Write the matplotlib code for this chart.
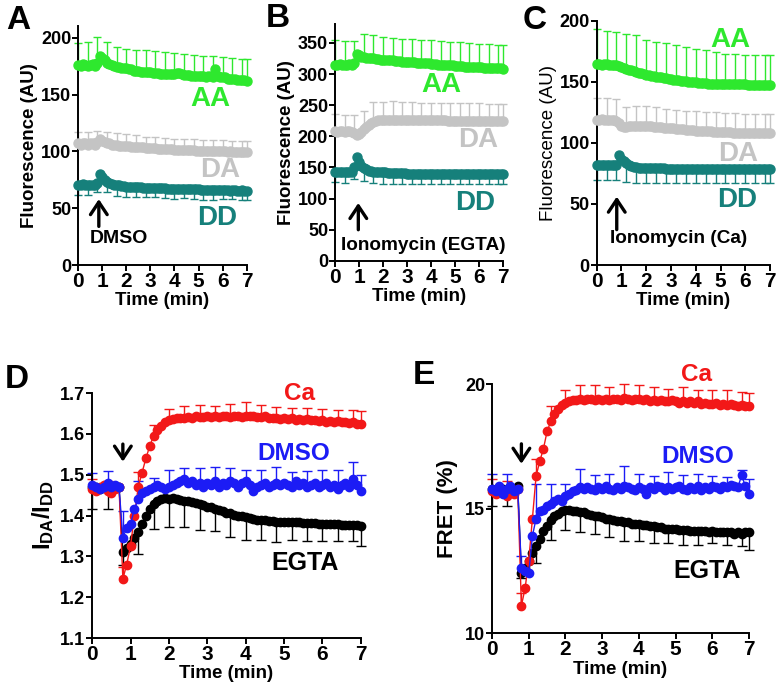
import numpy as np
import matplotlib.pyplot as plt

plt.rcParams['font.family'] = ['Liberation Sans', 'DejaVu Sans']
plt.rcParams['font.weight'] = 'bold'
plt.rcParams['axes.labelweight'] = 'bold'
plt.rcParams['mathtext.fontset'] = 'custom'
plt.rcParams['mathtext.rm'] = 'Liberation Sans:bold'
plt.rcParams['mathtext.bf'] = 'Liberation Sans:bold'

GREEN = '#2ee82e'
GREY = '#c4c4c4'
TEAL = '#16807b'
RED = '#f21818'
BLUE = '#1c1cf5'
BLACK = '#000000'

# sampling every 0.1 min, error bars every 4th sample + last one
time_min = np.linspace(0, 7, 71)
err_idx = list(range(0, 71, 4)) + [70]
time_ticks = [0, 1, 2, 3, 4, 5, 6, 7]

# ---------------- panel A (DMSO)
a_aa = [176, 175, 177, 176, 175, 176, 177, 175, 178, 184,
        182, 180, 178, 177, 176, 175, 174, 174, 173, 173,
        173, 172, 172, 171, 171, 171, 170, 170, 170, 170,
        170, 169, 169, 169, 168, 168, 168, 168, 168, 168,
        168, 169, 169, 168, 167, 167, 167, 166, 166, 166,
        166, 166, 166, 165, 166, 166, 165, 172, 166, 165,
        165, 165, 164, 164, 164, 164, 163, 163, 163, 163, 162]
a_da = [107, 106, 107, 107, 106, 107, 107, 106, 108, 111,
        109, 108, 107, 107, 106, 106, 106, 105, 105, 105,
        105, 105, 104, 104, 104, 104, 104, 104, 103, 103,
        103, 103, 103, 102, 102, 102, 102, 102, 102, 102,
        101, 101, 101, 101, 101, 101, 101, 101, 101, 100,
        100, 100, 100, 100, 100, 100, 100, 100, 100, 100,
        100, 100, 99, 100, 99, 99, 99, 99, 99, 99, 99]
a_dd = [70, 70, 71, 70, 70, 70, 70, 70, 72, 80,
        77, 75, 73, 72, 71, 70.5, 70, 70, 69.5, 69.5,
        69, 69, 69, 69, 68.5, 68.5, 68.5, 68, 68, 68,
        68, 68, 68, 67.5, 67.5, 67.5, 67.5, 67, 67, 67,
        67, 67, 67, 67, 67, 66.5, 66.5, 66.5, 66.5, 66.5,
        66.5, 66, 66, 66, 66, 66, 66, 66, 66, 66,
        66, 66, 66, 65.5, 66, 66, 65.5, 65.5, 66, 65.5, 65.5]
a_aa_err = [19, 21, 23, 18, 18, 17, 18, 19, 19, 19, 18.5, 19, 19, 18, 18.5, 18, 18, 18, 19]
a_da_err = [10, 11, 10, 10, 10, 10, 10, 10, 10, 10, 9.5, 10, 10, 10, 10, 10, 10, 10, 10]
a_dd_err = [8, 8, 8, 9, 9, 9, 9, 8.5, 8.5, 8.5, 8.5, 8, 8.5, 8.5, 8.5, 8, 8, 8.5, 8.5]

# ---------------- panel B (Ionomycin, EGTA)
b_aa = [315, 314, 316, 315, 314, 315, 316, 315, 318, 332,
        330, 328, 327, 326, 326, 325, 325, 324, 324, 323,
        323, 323, 322, 322, 322, 321, 321, 321, 320, 320,
        320, 319, 319, 319, 318, 318, 318, 317, 317, 317,
        316, 316, 316, 315, 315, 315, 315, 314, 314, 314,
        313, 313, 313, 313, 312, 312, 312, 312, 311, 311,
        311, 311, 310, 310, 310, 310, 309, 309, 309, 309, 308]
b_da = [208, 207, 208, 208, 207, 208, 208, 207, 205, 202,
        203, 207, 211, 215, 218, 221, 223, 224.5, 225.5, 226,
        226, 226.5, 227, 227, 227, 227, 227, 227, 226.5, 226.5,
        226.5, 226.5, 226.5, 226, 226, 226, 226, 226, 226, 226,
        226, 225.5, 225.5, 225.5, 225.5, 225.5, 225.5, 225, 225, 225,
        225, 225, 225, 225, 225, 225, 225, 225, 225, 225,
        225, 225, 224.5, 224.5, 224.5, 224.5, 224.5, 224.5, 224.5, 224.5, 224.5]
b_dd = [143, 142, 143, 143, 142, 143, 143, 143, 150, 167,
        158, 153, 149, 147, 145, 144, 143.5, 143, 142.5, 142.5,
        142, 142, 141.5, 141.5, 141, 141, 141, 140.5, 140.5, 140.5,
        140, 140, 140, 140, 140, 140, 140, 140, 140, 140,
        140, 140, 140, 139.5, 140, 140, 139.5, 139.5, 139.5, 139.5,
        139.5, 139.5, 139.5, 139.5, 139.5, 139, 139, 139, 139, 139,
        139, 139, 139, 139, 139, 139, 139, 139, 139, 139, 139]
b_aa_err = [39, 39, 35, 37, 38, 37, 36, 37, 37, 37, 38, 38, 38, 38, 38, 38, 38, 38, 39]
b_da_err = [28, 28, 29, 29, 32, 29, 29, 28, 28, 28, 28, 28, 28, 28, 28, 28, 28, 28, 27.5]
b_dd_err = [17, 17, 18, 20, 19, 18, 17, 17, 16, 16, 16, 16, 16, 16, 16, 16, 16, 16, 16]

# ---------------- panel C (Ionomycin, Ca)
c_aa = [164.5, 164.5, 164, 164.5, 164.5, 164, 164, 164, 164, 163,
        162, 161, 160.5, 160, 159.5, 159, 158, 157.5, 157, 156.5,
        156, 155.5, 155, 154.7, 154.3, 154, 153.6, 153.2, 152.8, 152.4,
        152, 151.7, 151.4, 151.1, 150.8, 150.5, 150.3, 150.1, 149.9, 149.7,
        149.5, 149.3, 149.1, 148.9, 148.7, 148.5, 148.3, 148.2, 148.1, 148,
        148, 148, 148, 148, 148, 148, 148, 148, 148, 148,
        148, 147.8, 147.6, 147.5, 147.4, 147.3, 147.2, 147.1, 147, 147, 147]
c_da = [119, 119, 119.5, 119, 119, 119, 119, 118.5, 118, 116,
        114, 113, 113, 113.5, 114, 114, 114, 114, 114, 114,
        114, 113.8, 113.6, 113.4, 113.2, 113, 112.8, 112.6, 112.4, 112.2,
        112, 111.8, 111.6, 111.4, 111.2, 111, 110.8, 110.6, 110.4, 110.2,
        110, 109.9, 109.8, 109.7, 109.6, 109.5, 109.4, 109.3, 109.2, 109.1,
        109, 108.9, 108.8, 108.7, 108.6, 108.5, 108.4, 108.3, 108.2, 108.1,
        108, 108, 108, 108, 108, 108, 108, 108, 108, 108, 108]
c_dd = [81.5, 81.5, 81.5, 81.5, 81.5, 81.5, 81.5, 81.5, 82, 90,
        87, 85, 83.5, 82.3, 81.3, 80.6, 80, 79.7, 79.5, 79.5,
        79.5, 79.4, 79.3, 79.3, 79.2, 79.2, 79.1, 79.1, 79, 79,
        79, 79, 79, 78.9, 78.9, 78.8, 78.8, 78.8, 78.7, 78.7,
        78.7, 78.7, 78.6, 78.6, 78.6, 78.6, 78.5, 78.5, 78.5, 78.5,
        78.5, 78.5, 78.5, 78.5, 78.5, 78.5, 78.5, 78.5, 78.5, 78.5,
        78.5, 78.5, 78.5, 78.5, 78.5, 78.5, 78.5, 78.5, 78.5, 78.5, 78.5]
c_aa_err = [28.5, 27.5, 27, 29, 30, 28, 28.5, 28.6, 28.6, 28.4, 27, 27.5, 26.4, 25, 24.5, 24, 24.4, 25, 25]
c_da_err = [18, 17.5, 18, 16, 16, 16, 16.5, 15.6, 15.4, 15.3, 16, 16, 15.8, 15.7, 16.1, 16, 16, 16, 16]
c_dd_err = [12, 12, 12.4, 15.6, 12.6, 12, 12, 11.8, 11.6, 11.5, 11.3, 11.2, 11.1, 11.1, 11.1, 11.1, 11.1, 11.1, 11.1]

# ---------------- panel D (I_DA / I_DD)
d_ca = [1.465, 1.46, 1.47, 1.475, 1.46, 1.455, 1.465, 1.47, 1.245, 1.28,
        1.325, 1.40, 1.47, 1.505, 1.54, 1.57, 1.595, 1.61, 1.62, 1.628,
        1.634, 1.636, 1.638, 1.64, 1.639, 1.641, 1.64, 1.643, 1.642, 1.641,
        1.643, 1.642, 1.644, 1.641, 1.643, 1.644, 1.642, 1.645, 1.643, 1.641,
        1.644, 1.645, 1.643, 1.642, 1.641, 1.643, 1.64, 1.638, 1.64, 1.637,
        1.639, 1.636, 1.638, 1.635, 1.637, 1.634, 1.636, 1.633, 1.635, 1.632,
        1.634, 1.63, 1.632, 1.629, 1.631, 1.628, 1.63, 1.626, 1.628, 1.625, 1.624]
d_dmso = [1.475, 1.47, 1.465, 1.47, 1.48, 1.47, 1.475, 1.47, 1.345, 1.37,
          1.38, 1.415, 1.44, 1.455, 1.46, 1.465, 1.47, 1.475, 1.47, 1.465,
          1.47, 1.475, 1.48, 1.485, 1.49, 1.48, 1.485, 1.475, 1.48, 1.47,
          1.48, 1.475, 1.485, 1.47, 1.48, 1.475, 1.485, 1.48, 1.47, 1.48,
          1.485, 1.475, 1.46, 1.47, 1.475, 1.48, 1.47, 1.475, 1.48, 1.475,
          1.48, 1.475, 1.47, 1.485, 1.475, 1.48, 1.47, 1.475, 1.48, 1.47,
          1.475, 1.48, 1.47, 1.475, 1.465, 1.475, 1.48, 1.47, 1.49, 1.475, 1.46]
d_egta = [1.47, 1.47, 1.465, 1.47, 1.47, 1.465, 1.47, 1.47, 1.31, 1.32,
          1.33, 1.345, 1.36, 1.38, 1.40, 1.415, 1.428, 1.436, 1.44, 1.442,
          1.44, 1.442, 1.44, 1.438, 1.436, 1.435, 1.432, 1.43, 1.428, 1.425,
          1.422, 1.42, 1.417, 1.414, 1.41, 1.407, 1.405, 1.402, 1.40, 1.398,
          1.396, 1.394, 1.392, 1.39, 1.389, 1.388, 1.387, 1.386, 1.385, 1.385,
          1.385, 1.384, 1.384, 1.383, 1.383, 1.382, 1.382, 1.381, 1.381, 1.38,
          1.38, 1.38, 1.379, 1.379, 1.379, 1.378, 1.378, 1.377, 1.377, 1.376, 1.375]
d_ca_err = [0.025, 0.025, 0.03, 0.036, 0.027, 0.028, 0.03, 0.029, 0.025, 0.032,
            0.033, 0.03, 0.027, 0.025, 0.027, 0.026, 0.028, 0.03, 0.031]
d_dmso_err = [0.03, 0.03, 0.065, 0.044, 0.022, 0.042, 0.026, 0.036, 0.035, 0.031,
              0.027, 0.037, 0.039, 0.037, 0.038, 0.037, 0.047, 0.04, 0.04]
d_egta_err = [0.055, 0.055, 0.03, 0.055, 0.06, 0.067, 0.063, 0.063, 0.056, 0.057,
              0.055, 0.049, 0.049, 0.043, 0.045, 0.043, 0.042, 0.04, 0.05]

# ---------------- panel E (FRET %)
e_ca = [15.7, 15.6, 15.8, 15.7, 15.5, 15.7, 15.6, 15.8, 11.1, 11.8,
        12.9, 14.6, 16.3, 16.9, 17.4, 18.1, 18.5, 18.8, 19.0, 19.15,
        19.25, 19.3, 19.35, 19.35, 19.4, 19.35, 19.4, 19.4, 19.35, 19.4,
        19.35, 19.4, 19.35, 19.4, 19.4, 19.35, 19.45, 19.4, 19.35, 19.4,
        19.4, 19.35, 19.4, 19.3, 19.35, 19.3, 19.35, 19.3, 19.3, 19.35,
        19.3, 19.25, 19.3, 19.25, 19.3, 19.25, 19.3, 19.2, 19.25, 19.2,
        19.2, 19.25, 19.15, 19.2, 19.15, 19.2, 19.15, 19.1, 19.15, 19.1, 19.1]
e_dmso = [15.8, 15.7, 15.9, 15.6, 15.8, 15.9, 15.7, 15.8, 12.6, 12.5,
          12.4, 13.9, 14.6, 14.9, 14.95, 15.1, 15.2, 15.3, 15.4, 15.3,
          15.5, 15.6, 15.7, 15.75, 15.85, 15.8, 15.85, 15.8, 15.75, 15.85,
          15.8, 15.9, 15.8, 15.75, 15.85, 15.8, 15.9, 15.85, 15.8, 15.75,
          15.85, 15.8, 15.6, 15.85, 15.8, 15.9, 15.85, 15.75, 15.85, 15.8,
          15.85, 15.9, 15.8, 15.75, 15.85, 15.8, 15.9, 15.75, 15.85, 15.8,
          15.9, 15.85, 15.8, 15.9, 15.85, 15.95, 15.9, 15.85, 16.35, 15.9, 15.6]
e_egta = [15.8, 15.8, 15.7, 15.8, 15.8, 15.7, 15.8, 15.9, 12.4, 12.6,
          12.9, 13.2, 13.5, 13.8, 14.1, 14.3, 14.55, 14.7, 14.8, 14.9,
          14.95, 14.95, 14.9, 14.9, 14.85, 14.85, 14.8, 14.75, 14.7, 14.7,
          14.65, 14.6, 14.6, 14.55, 14.5, 14.5, 14.45, 14.45, 14.4, 14.4,
          14.4, 14.35, 14.35, 14.3, 14.3, 14.25, 14.25, 14.2, 14.2, 14.2,
          14.2, 14.15, 14.15, 14.15, 14.1, 14.1, 14.1, 14.1, 14.1, 14.05,
          14.1, 14.05, 14.05, 14.05, 14.05, 14.05, 14.0, 14.05, 14.0, 14.05, 14.05]
e_ca_err = [0.5, 0.6, 0.5, 0.7, 0.6, 0.52, 0.55, 0.6, 0.55, 0.55,
            0.57, 0.55, 0.5, 0.57, 0.47, 0.55, 0.6, 0.55, 0.56]
e_dmso_err = [0.6, 0.6, 0.5, 1.4, 0.8, 0.5, 0.75, 0.6, 0.6, 0.8,
              0.55, 0.5, 0.6, 0.55, 0.5, 0.4, 0.4, 0.2, 0.6]
e_egta_err = [0.7, 0.7, 0.2, 0.7, 0.8, 0.8, 0.8, 0.7, 0.75, 0.75,
              0.7, 0.7, 0.6, 0.6, 0.55, 0.5, 0.5, 0.5, 0.7]


def trace(ax, y, err, color, up=True, ms=6.5, cap=6):
    y = np.asarray(y, dtype=float)
    xe = time_min[err_idx]
    ye = y[err_idx]
    end = ye + np.asarray(err) if up else ye - np.asarray(err)
    ax.vlines(xe, ye, end, color=color, lw=1, zorder=2, clip_on=False)
    ax.plot(xe, end, ls='none', marker='_', ms=cap, mew=1, color=color,
            zorder=2, clip_on=False)
    ax.plot(time_min, y, '-o', color=color, ms=ms, lw=1, zorder=3, clip_on=False)


def style(ax, ylim, yticks, ytick_labels, ylabel, yfs=13.5, ybold=True, labelpad=2):
    for s in ['top', 'right']:
        ax.spines[s].set_visible(False)
    for s in ['left', 'bottom']:
        ax.spines[s].set_linewidth(1.4)
    ax.set_xlim(0, 7)
    ax.set_ylim(*ylim)
    ax.tick_params(axis='both', width=1.4, length=4, pad=1)
    ax.set_xticks(time_ticks, labels=[str(t) for t in time_ticks],
                  fontsize=15, fontweight='bold')
    ax.set_yticks(yticks, labels=ytick_labels, fontsize=13, fontweight='bold')
    ax.set_xlabel('Time (min)', fontsize=13.5, labelpad=1, fontweight='bold')
    ax.set_ylabel(ylabel, fontsize=yfs, labelpad=labelpad,
                  fontweight='bold' if ybold else 'normal')


def label(ax, x, y, s, color, fs=20):
    ax.text(x, y, s, color=color, fontsize=fs, ha='center', va='center',
            fontweight='bold')


def arrow(ax, x, y0, y1):
    ax.annotate('', xy=(x, y1), xytext=(x, y0),
                arrowprops=dict(arrowstyle='->,head_width=0.3,head_length=0.45',
                                mutation_scale=20, shrinkA=0, shrinkB=0,
                                lw=2.4, color='black'))


fig = plt.figure(figsize=(7.81, 6.92), dpi=100)

# A
ax = fig.add_axes([0.100, 0.617, 0.216, 0.345])
trace(ax, a_dd, a_dd_err, TEAL, up=False)
trace(ax, a_da, a_da_err, GREY)
trace(ax, a_aa, a_aa_err, GREEN)
a_ticks = [0, 50, 100, 150, 200]
style(ax, (0, 210), a_ticks, [str(v) for v in a_ticks], 'Fluorescence (AU)')
label(ax, 5.48, 146, 'AA', GREEN)
label(ax, 5.9, 84, 'DA', GREY)
label(ax, 5.76, 41, 'DD', TEAL)
arrow(ax, 0.86, 34, 58)
label(ax, 1.68, 23, 'DMSO', BLACK, fs=14)

# B
ax = fig.add_axes([0.429, 0.623, 0.215, 0.342])
trace(ax, b_dd, b_dd_err, TEAL, up=False)
trace(ax, b_da, b_da_err, GREY)
trace(ax, b_aa, b_aa_err, GREEN)
b_ticks = [0, 50, 100, 150, 200, 250, 300, 350]
style(ax, (0, 380), b_ticks, [str(v) for v in b_ticks], 'Fluorescence (AU)')
label(ax, 4.44, 282, 'AA', GREEN)
label(ax, 5.96, 194, 'DA', GREY)
label(ax, 5.83, 93, 'DD', TEAL)
arrow(ax, 0.97, 50, 93)
label(ax, 3.68, 25, 'Ionomycin (EGTA)', BLACK, fs=13.7)

# C
ax = fig.add_axes([0.764, 0.617, 0.222, 0.353])
trace(ax, c_dd, c_dd_err, TEAL, up=False)
trace(ax, c_da, c_da_err, GREY)
trace(ax, c_aa, c_aa_err, GREEN)
c_ticks = [0, 50, 100, 150, 200]
style(ax, (0, 200), c_ticks, [str(v) for v in c_ticks], 'Fluorescence (AU)',
      ybold=False)
label(ax, 5.38, 184, 'AA', GREEN)
label(ax, 5.72, 91, 'DA', GREY)
label(ax, 5.65, 53, 'DD', TEAL)
arrow(ax, 0.81, 29, 56)
label(ax, 3.3, 22, 'Ionomycin (Ca)', BLACK, fs=13.7)

# D
ax = fig.add_axes([0.118, 0.078, 0.344, 0.354])
trace(ax, d_egta, d_egta_err, BLACK, up=False, ms=6, cap=7)
trace(ax, d_ca, d_ca_err, RED, ms=6, cap=7)
trace(ax, d_dmso, d_dmso_err, BLUE, ms=6, cap=7)
d_ticks = [1.1, 1.2, 1.3, 1.4, 1.5, 1.6, 1.7]
style(ax, (1.1, 1.7), d_ticks, ['%.1f' % v for v in d_ticks],
      r'$\mathregular{I_{DA}/I_{DD}}$', yfs=17, labelpad=3)
label(ax, 5.4, 1.70, 'Ca', RED, fs=17.5)
label(ax, 5.24, 1.553, 'DMSO', BLUE, fs=17.5)
label(ax, 5.54, 1.284, 'EGTA', BLACK, fs=18)
arrow(ax, 0.8, 1.575, 1.532)

# E
ax = fig.add_axes([0.630, 0.085, 0.329, 0.360])
trace(ax, e_egta, e_egta_err, BLACK, up=False, ms=6, cap=7)
trace(ax, e_ca, e_ca_err, RED, ms=6, cap=7)
trace(ax, e_dmso, e_dmso_err, BLUE, ms=6, cap=7)
e_ticks = [10, 15, 20]
style(ax, (10, 20), e_ticks, [str(v) for v in e_ticks], 'FRET (%)',
      yfs=16, labelpad=5)
label(ax, 5.57, 20.4, 'Ca', RED, fs=17.5)
label(ax, 5.6, 17.1, 'DMSO', BLUE, fs=17.5)
label(ax, 5.85, 12.5, 'EGTA', BLACK, fs=18)
arrow(ax, 0.8, 17.6, 16.8)

for s, x, y in [('A', 0.023, 0.971), ('B', 0.356, 0.973), ('C', 0.685, 0.971),
                ('D', 0.022, 0.452), ('E', 0.543, 0.457)]:
    fig.text(x, y, s, fontsize=24, fontweight='bold', ha='center', va='center')

fig.savefig('out.png', dpi=100)
